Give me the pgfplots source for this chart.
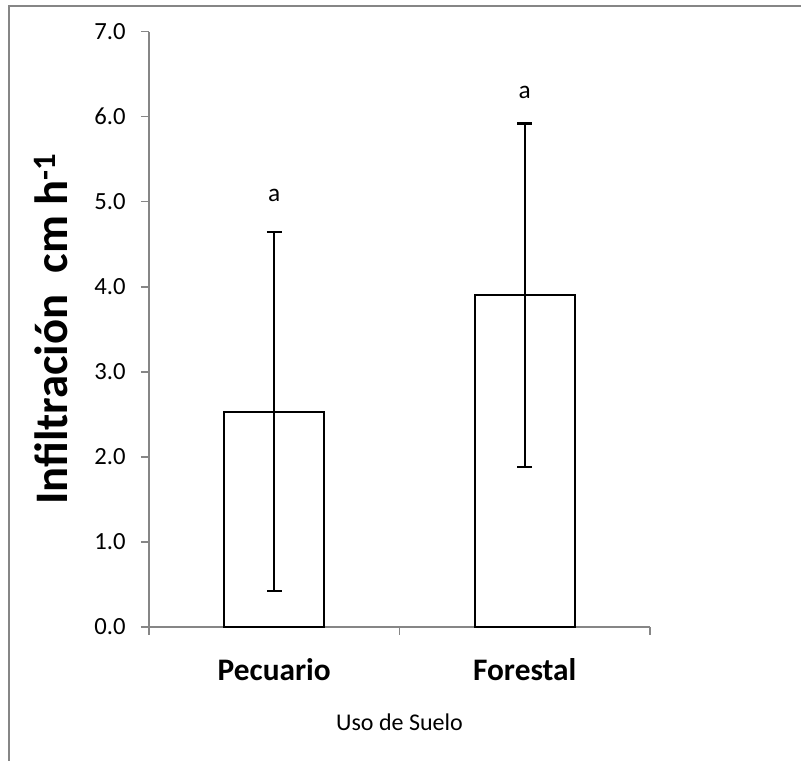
\documentclass[border=0pt]{standalone}
\usepackage{fontspec}
\setmainfont{Carlito}
\usepackage{pgfplots}
\pgfplotsset{compat=1.18}
\definecolor{axisgray}{RGB}{134,134,134}

\begin{document}
\begin{tikzpicture}
  \useasboundingbox (-111.75pt,-100.5pt) rectangle (489pt,470.25pt);
  % outer chart frame (cut off at right and bottom)
  \draw[axisgray, line width=1.5pt] (-105pt,-100.5pt) -- (-105pt,465.75pt) -- (489pt,465.75pt);
  \begin{axis}[
      scale only axis,
      width=375.75pt, height=446.5pt,
      xmin=-0.5, xmax=1.5,
      ymin=0, ymax=7,
      axis x line*=bottom, axis y line*=left,
      axis line style={axisgray, line width=1.1pt},
      xtick={-0.5,0.5,1.5}, xticklabels={},
      ytick={0,1,...,7},
      tick align=outside,
      major tick length=6pt,
      tick style={axisgray, line width=1.1pt},
      yticklabel style={font=\fontsize{18.5}{22}\selectfont, xshift=-8pt,
        /pgf/number format/.cd, fixed, fixed zerofill, precision=1, assume math mode=true},
      ybar, bar width=75pt,
      clip=false,
    ]
    \addplot[draw=black, fill=white, line width=1.6pt,
      error bars/.cd, y dir=both, y explicit,
      error bar style={black, line width=1.6pt},
      error mark options={rotate=90, mark size=5.5pt, line width=1.6pt, black}]
      coordinates {(0,2.53) +- (0,2.11) (1,3.90) +- (0,2.02)};

    % significance letters
    \node[font=\fontsize{19}{22}\selectfont] at (axis cs:0,5.08) {a};
    \node[font=\fontsize{19}{22}\selectfont] at (axis cs:1,6.29) {a};

    % category labels
    \node[font=\bfseries\fontsize{23.5}{28}\selectfont] at ([yshift=-32.25pt]axis cs:0,0) {Pecuario};
    \node[font=\bfseries\fontsize{23.5}{28}\selectfont] at ([yshift=-32.25pt]axis cs:1,0) {Forestal};
    \node[font=\fontsize{18}{21}\selectfont] at ([yshift=-71.25pt]axis cs:0.5,0) {Uso de Suelo};

    % y label
    \node[rotate=90, anchor=base, font=\bfseries\fontsize{35}{40}\selectfont]
      at ([xshift=-60.75pt]axis cs:-0.5,3.504) {Infiltración\ \ cm h\textsuperscript{-1}};
  \end{axis}
\end{tikzpicture}
\end{document}
